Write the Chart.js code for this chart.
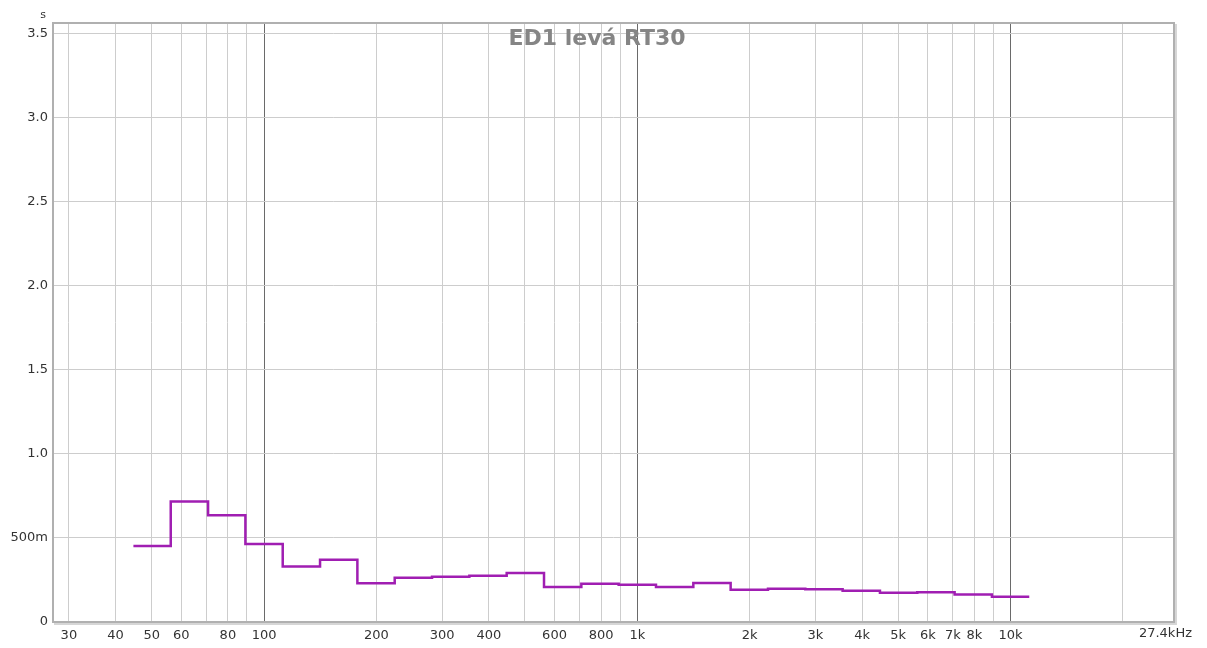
<!DOCTYPE html>
<html>
<head>
<meta charset="utf-8">
<title>ED1 levá RT30</title>
<script src="https://cdn.jsdelivr.net/npm/chart.js@4.4.1/dist/chart.umd.min.js"></script>
<style>
  html, body { margin: 0; padding: 0; background: #ffffff; }
  #wrap { width: 1207px; height: 648px; position: relative; }
</style>
</head>
<body>
<div id="wrap"><canvas id="rt"></canvas></div>
<script>
// 1/3-octave band centres (Hz) and the RT30 measured in each band (s)
const bandCentres = [50, 63, 80, 100, 125, 160, 200, 250, 315, 400, 500, 630,
                     800, 1000, 1250, 1600, 2000, 2500, 3150, 4000, 5000, 6300, 8000, 10000];
const rt30 = [0.453, 0.717, 0.636, 0.464, 0.330, 0.371, 0.231, 0.264, 0.270, 0.276, 0.292, 0.209,
              0.227, 0.221, 0.208, 0.232, 0.192, 0.198, 0.195, 0.186, 0.174, 0.177, 0.163, 0.150];

// frequency grid lines and the ones that carry a label
const gridFreqs = [30, 40, 50, 60, 70, 80, 90, 100, 200, 300, 400, 500, 600, 700, 800, 900,
                   1000, 2000, 3000, 4000, 5000, 6000, 7000, 8000, 9000, 10000, 20000];
const freqLabels = {30: '30', 40: '40', 50: '50', 60: '60', 80: '80', 100: '100', 200: '200',
                    300: '300', 400: '400', 600: '600', 800: '800', 1000: '1k', 2000: '2k',
                    3000: '3k', 4000: '4k', 5000: '5k', 6000: '6k', 7000: '7k', 8000: '8k',
                    10000: '10k'};
const decadeFreqs = [100, 1000, 10000];
const timeTicks = [0, 0.5, 1.0, 1.5, 2.0, 2.5, 3.0, 3.5];
const freqMin = 27.2, freqMax = 27400;
const timeMax = 3.565;
const chartTitle = 'ED1 levá RT30';
const freqEndLabel = '27.4kHz';
const timeUnit = 's';

// each band becomes a flat step from its lower to its upper edge
const exactCentre = f => Math.pow(10, Math.round(10 * Math.log10(f)) / 10);
const stepPoints = bandCentres.map((f, i) => ({ x: exactCentre(f) * Math.pow(10, -0.05), y: rt30[i] }));
stepPoints.push({ x: exactCentre(bandCentres[bandCentres.length - 1]) * Math.pow(10, 0.05),
                  y: rt30[rt30.length - 1] });

const FONT = '"DejaVu Sans", "Lucida Grande", sans-serif';

const decorations = {
  id: 'decorations',
  beforeDatasetsDraw(chart) {
    const { ctx } = chart;
    ctx.save();
    ctx.font = 'bold 22px ' + FONT;
    ctx.fillStyle = '#858585';
    ctx.textAlign = 'center';
    ctx.textBaseline = 'alphabetic';
    ctx.fillText(chartTitle, 597, 45);
    ctx.restore();
  },
  afterDraw(chart) {
    const { ctx, chartArea: a, scales } = chart;
    ctx.save();
    // plot frame with a soft shade on the right and bottom
    ctx.strokeStyle = '#d6d6d6';
    ctx.lineWidth = 2;
    ctx.beginPath();
    ctx.moveTo(a.right + 2, a.top + 1);
    ctx.lineTo(a.right + 2, a.bottom + 2);
    ctx.lineTo(a.left + 1, a.bottom + 2);
    ctx.stroke();
    ctx.strokeStyle = '#b0b0b0';
    ctx.lineWidth = 2;
    ctx.strokeRect(a.left, a.top, a.right - a.left, a.bottom - a.top);
    // unit of the time axis and the end-of-range frequency label
    ctx.fillStyle = '#333333';
    ctx.font = '11px ' + FONT;
    ctx.textAlign = 'center';
    ctx.textBaseline = 'middle';
    ctx.fillText(timeUnit, a.left - 10, 15);
    ctx.font = '13px ' + FONT;
    ctx.textAlign = 'right';
    ctx.fillText(freqEndLabel, scales.x.getPixelForValue(freqMax) + 18, 634);
    ctx.restore();
  }
};

new Chart(document.getElementById('rt'), {
  type: 'line',
  data: {
    datasets: [{
      data: stepPoints,
      stepped: 'before',
      borderColor: '#a01eb2',
      borderWidth: 2.5,
      pointRadius: 0,
      fill: false,
      tension: 0
    }]
  },
  options: {
    responsive: true,
    maintainAspectRatio: false,
    animation: false,
    events: [],
    layout: { padding: { top: 23, right: 33, bottom: 0, left: 0 } },
    plugins: { legend: { display: false }, tooltip: { enabled: false }, title: { display: false } },
    scales: {
      x: {
        type: 'logarithmic',
        min: freqMin,
        max: freqMax,
        afterBuildTicks: s => { s.ticks = gridFreqs.map(v => ({ value: v })); },
        afterFit: s => { s.height = 26; },
        border: { display: false },
        grid: {
          drawTicks: false,
          lineWidth: 1,
          color: c => (c.tick && decadeFreqs.includes(c.tick.value)) ? '#6a6a6a' : '#cdcdcd'
        },
        ticks: {
          autoSkip: false,
          maxRotation: 0,
          padding: 6,
          color: '#333333',
          font: { family: FONT, size: 13 },
          callback: v => freqLabels[v] || ''
        }
      },
      y: {
        type: 'linear',
        min: 0,
        max: timeMax,
        afterBuildTicks: s => { s.ticks = timeTicks.map(v => ({ value: v })); },
        afterFit: s => { s.width = 53; },
        border: { display: false },
        grid: { drawTicks: false, lineWidth: 1, color: '#cdcdcd' },
        ticks: {
          padding: 5,
          color: '#333333',
          font: { family: FONT, size: 13 },
          callback: v => v === 0 ? '0' : (v === 0.5 ? '500m' : v.toFixed(1))
        }
      }
    }
  },
  plugins: [decorations]
});
</script>
</body>
</html>
